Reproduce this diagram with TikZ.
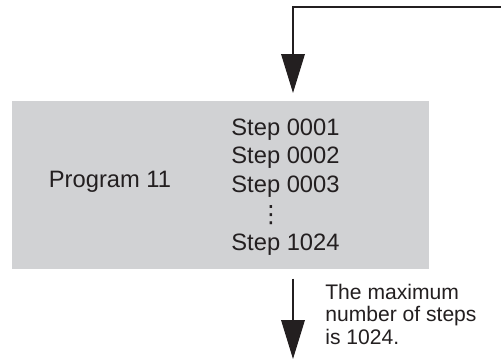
\documentclass[tikz,border=0pt]{standalone}
\usepackage{fontspec}
\setmainfont{Liberation Sans}
\newfontfamily\symfont{DejaVu Sans}
\usetikzlibrary{arrows.meta,positioning,calc}
\definecolor{boxgray}{RGB}{209,210,212}
\definecolor{ink}{RGB}{35,31,32}

\begin{document}
\begin{tikzpicture}[x=0.02cm,y=-0.02cm,
  flow/.style={draw=ink,line width=1.1pt,-{Triangle[length=0.78cm,width=0.47cm]}},
  stepbox/.style={fill=boxgray,minimum width=8.34cm,minimum height=3.36cm,inner sep=0pt},
  txt/.style={text=ink,font=\fontsize{13.5}{16}\selectfont,inner sep=0pt},
  note/.style={text=ink,font=\fontsize{12}{12.7}\selectfont,inner sep=0pt,align=left}]
\useasboundingbox (0,0) rectangle (501,360);
\node[stepbox,anchor=north west] (box) at (12,101) {};
\node[txt] (prog) at (110,182) {Program 11};
\node[txt] (s1) at (285.5,130) {Step 0001};
\node[txt] (s2) at (285.5,158) {Step 0002};
\node[txt] (s3) at (285.5,187) {Step 0003};
\node[txt] (dots) at (271,215) {\symfont ⋮};
\node[txt] (s4) at (285.5,245) {Step 1024};
\node[note,anchor=north west] (max) at (325,284) {The maximum\\number of steps\\is 1024.};
\coordinate (feed) at (501,7);
\coordinate (out) at (293,359);
% program loops back in from the right
\draw[flow] (feed) -| ($(box.north west)+(281,-8)$);
\draw[flow] ($(box.south west)+(281,9)$) -- (out);
\end{tikzpicture}
\end{document}
